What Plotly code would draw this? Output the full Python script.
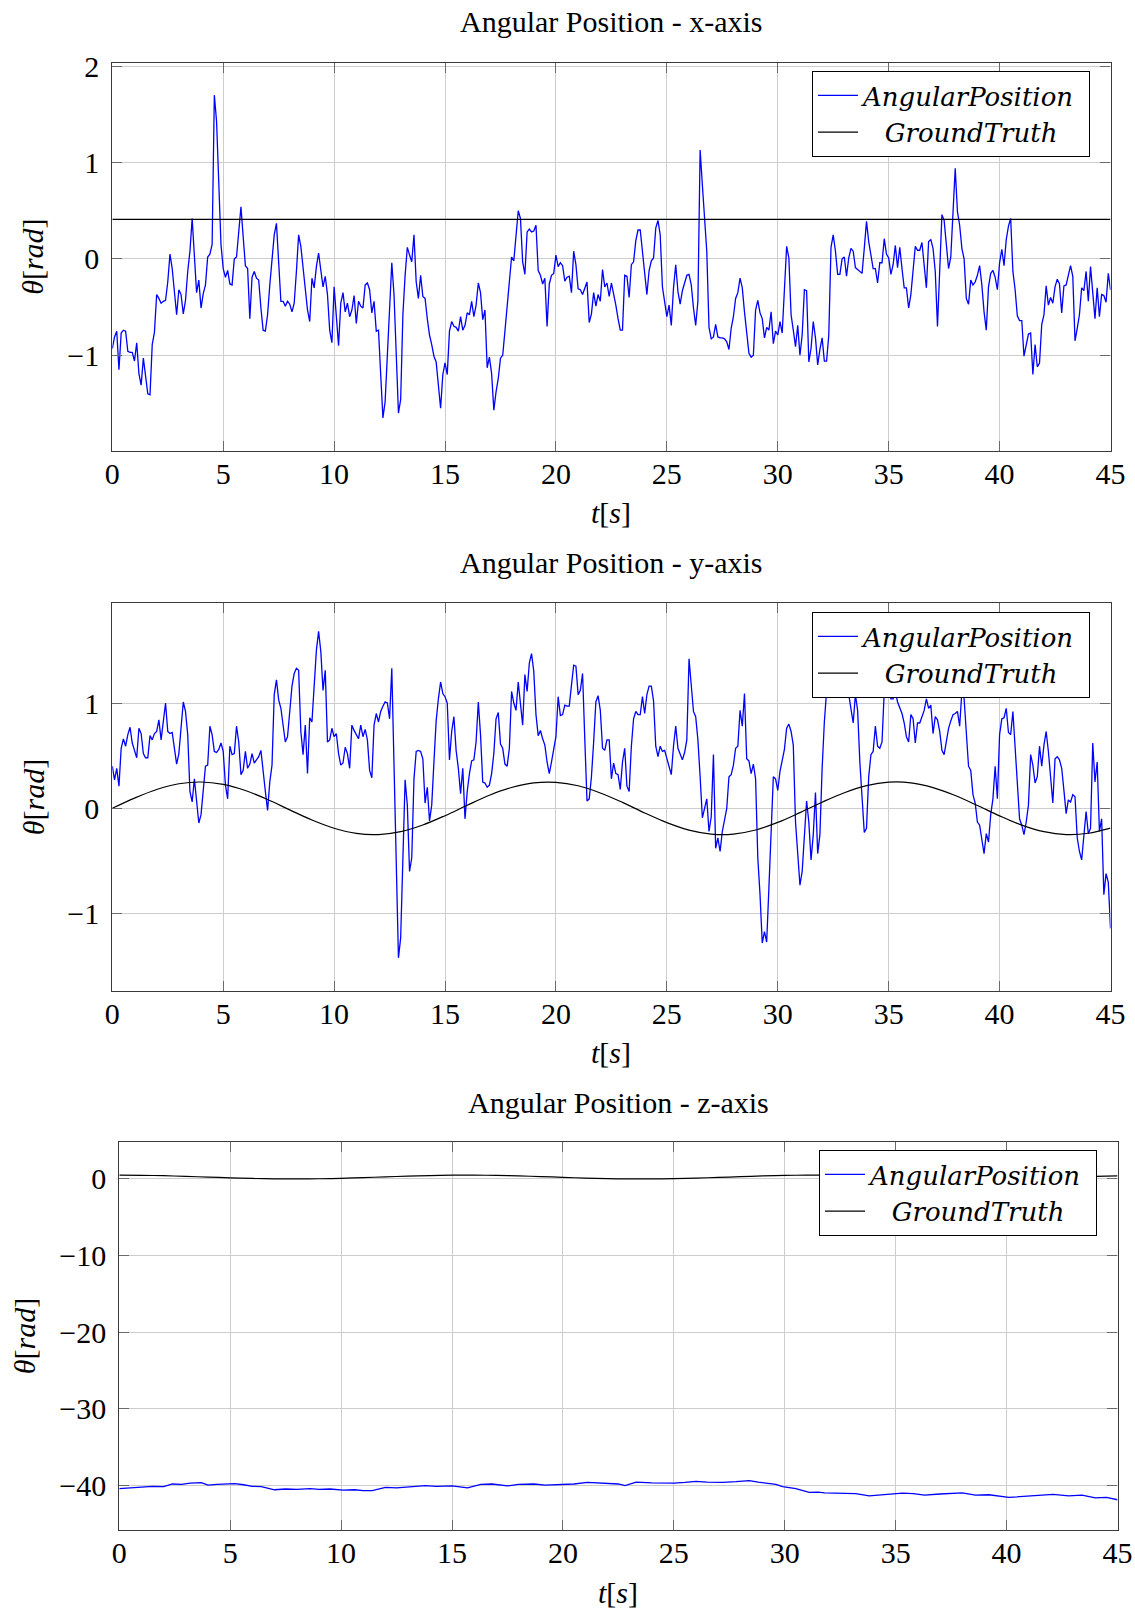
import numpy as np
import plotly.graph_objects as go

W, H = 1135, 1612
FONT = "Liberation Serif"
FONT_LEG = "DejaVu Serif"
FS = 30        # tick labels, titles
FS_LEG = 26    # legend entries

# ---------------------------------------------------------------- data
# IMU-estimated angular position, sampled every 0.1 s (0 ... 45 s)
pos_x_0_15 = [
    -0.93, -0.81, -0.75, -1.15, -0.77, -0.74, -0.75, -0.96, -0.97, -0.97,
    -1.06, -0.87, -1.19, -1.31, -1.03, -1.20, -1.40, -1.41, -0.89, -0.76,
    -0.37, -0.41, -0.46, -0.44, -0.43, -0.24, 0.05, -0.10, -0.34, -0.58,
    -0.32, -0.37, -0.57, -0.43, -0.13, 0.08, 0.42, -0.03, -0.35, -0.22,
    -0.51, -0.36, -0.27, 0.02, 0.05, 0.15, 1.70, 1.43, 0.77, 0.15,
    -0.10, -0.19, -0.12, -0.26, -0.27, 0.00, 0.02, 0.32, 0.54, 0.23,
    -0.07, -0.10, -0.62, -0.19, -0.13, -0.20, -0.22, -0.51, -0.74, -0.75,
    -0.58, -0.27, 0.04, 0.25, 0.37, -0.06, -0.44, -0.44, -0.49, -0.44,
    -0.47, -0.55, -0.46, -0.13, 0.25, 0.13, -0.10, -0.34, -0.53, -0.65,
    -0.20, -0.30, -0.08, 0.06, -0.10, -0.29, -0.18, -0.37, -0.74, -0.87,
    -0.29, -0.65, -0.90, -0.46, -0.35, -0.55, -0.46, -0.60, -0.53, -0.38,
    -0.67, -0.44, -0.49, -0.51, -0.27, -0.25, -0.32, -0.56, -0.44, -0.75,
    -0.74, -1.20, -1.65, -1.48, -1.00, -0.58, -0.04, -0.37, -1.07, -1.60,
    -1.46, -0.58, -0.17, 0.12, 0.04, -0.03, 0.25, -0.24, -0.41, -0.17,
    -0.39, -0.41, -0.62, -0.79, -0.89, -1.01, -1.07, -1.31, -1.55, -1.20,
    -1.08, -1.20, -0.75,
]
pos_x_15_30 = [
    -0.65, -0.70, -0.71, -0.75, -0.60, -0.74, -0.69, -0.56, -0.58, -0.44,
    -0.60, -0.48, -0.25, -0.35, -0.63, -0.53, -1.13, -1.02, -1.19, -1.57,
    -1.38, -1.24, -1.03, -1.00, -0.75, -0.48, -0.18, 0.02, -0.02, 0.23,
    0.50, 0.42, -0.03, -0.16, 0.28, 0.31, 0.28, 0.29, 0.35, -0.12,
    -0.17, -0.26, -0.20, -0.70, -0.26, -0.17, -0.15, 0.04, -0.08, -0.04,
    -0.07, -0.23, -0.19, -0.18, -0.35, 0.08, -0.06, -0.31, -0.32, -0.37,
    -0.30, -0.24, -0.66, -0.57, -0.35, -0.49, -0.37, -0.44, -0.11, -0.29,
    -0.25, -0.39, -0.25, -0.35, -0.48, -0.62, -0.74, -0.74, -0.17, -0.18,
    -0.40, -0.06, -0.03, 0.19, 0.30, 0.30, 0.08, -0.17, -0.37, -0.12,
    -0.02, 0.01, 0.32, 0.40, 0.25, -0.29, -0.45, -0.60, -0.48, -0.69,
    -0.30, -0.06, -0.34, -0.47, -0.33, -0.25, -0.17, -0.16, -0.27, -0.51,
    -0.69, -0.44, 1.13, 0.77, 0.42, 0.08, -0.71, -0.83, -0.81, -0.68,
    -0.81, -0.82, -0.82, -0.83, -0.86, -0.94, -0.72, -0.60, -0.41, -0.35,
    -0.20, -0.30, -0.55, -0.79, -0.98, -1.02, -1.00, -0.53, -0.43, -0.56,
    -0.62, -0.82, -0.71, -0.74, -0.55, -0.88, -0.75, -0.79, -0.65, -0.77,
    -0.30, 0.13, 0.01,
]
pos_x_30_45 = [
    -0.58, -0.74, -0.91, -0.69, -1.00, -0.79, -0.32, -0.33, -1.07, -0.93,
    -0.65, -0.82, -1.10, -0.94, -0.82, -1.06, -1.06, -0.79, 0.12, 0.25,
    0.08, -0.16, -0.16, 0.00, 0.02, -0.18, 0.01, 0.11, 0.08, -0.09,
    -0.11, -0.12, -0.15, 0.11, 0.39, 0.18, 0.02, -0.10, -0.10, -0.25,
    -0.04, -0.04, 0.21, 0.05, 0.01, -0.16, -0.06, 0.14, -0.09, 0.12,
    -0.10, -0.30, -0.30, -0.51, -0.37, -0.10, 0.13, 0.09, 0.09, 0.17,
    -0.10, -0.30, 0.18, 0.20, 0.11, -0.13, -0.70, -0.03, 0.46, 0.40,
    0.13, -0.10, 0.02, 0.53, 0.94, 0.49, 0.35, 0.11, 0.00, -0.41,
    -0.47, -0.22, -0.27, -0.24, -0.17, -0.07, -0.27, -0.55, -0.74, -0.29,
    -0.15, -0.12, -0.19, -0.32, -0.04, 0.10, -0.07, 0.20, 0.34, 0.42,
    -0.13, -0.32, -0.59, -0.64, -0.64, -1.01, -0.89, -0.78, -0.77, -1.20,
    -0.89, -1.12, -1.08, -0.68, -0.58, -0.28, -0.48, -0.40, -0.46, -0.29,
    -0.21, -0.26, -0.56, -0.28, -0.27, -0.15, -0.07, -0.18, -0.85, -0.72,
    -0.58, -0.30, -0.33, -0.13, -0.44, -0.08, -0.37, -0.62, -0.30, -0.60,
    -0.37, -0.38, -0.45, -0.15, -0.32,
]

pos_y_0_15 = [
    0.40, 0.27, 0.38, 0.21, 0.57, 0.66, 0.59, 0.70, 0.77, 0.62,
    0.55, 0.48, 0.76, 0.71, 0.52, 0.48, 0.48, 0.69, 0.65, 0.71,
    0.73, 0.84, 0.65, 0.82, 1.00, 0.73, 0.71, 0.72, 0.57, 0.42,
    0.52, 0.79, 1.01, 0.92, 0.70, 0.16, 0.06, 0.28, 0.03, -0.14,
    -0.06, 0.19, 0.40, 0.41, 0.78, 0.70, 0.54, 0.53, 0.56, 0.62,
    0.54, 0.22, 0.09, 0.59, 0.51, 0.52, 0.78, 0.63, 0.32, 0.36,
    0.54, 0.38, 0.42, 0.52, 0.43, 0.46, 0.49, 0.55, 0.38, 0.16,
    -0.02, 0.25, 0.41, 1.08, 1.22, 1.03, 0.95, 0.78, 0.63, 0.68,
    0.92, 1.16, 1.28, 1.33, 1.31, 0.73, 0.51, 0.79, 0.33, 0.86,
    0.82, 1.12, 1.50, 1.68, 1.49, 1.12, 1.31, 0.63, 0.65, 0.76,
    0.68, 0.71, 0.52, 0.41, 0.43, 0.58, 0.52, 0.38, 0.79, 0.74,
    0.70, 0.66, 0.79, 0.68, 0.75, 0.65, 0.36, 0.29, 0.79, 0.90,
    0.82, 0.92, 0.97, 1.01, 1.00, 0.85, 1.33, 0.47, -0.51, -1.42,
    -1.23, -0.41, 0.27, 0.03, -0.60, -0.47, 0.28, 0.54, 0.55, 0.54,
    0.47, 0.05, 0.20, -0.12, 0.03, 0.44, 0.83, 1.04, 1.20, 1.09,
    1.06, 1.00, 0.46,
]
pos_y_15_30 = [
    0.73, 0.87, 0.55, 0.38, 0.14, 0.38, -0.10, 0.16, 0.33, 0.45,
    0.46, 0.63, 1.01, 0.70, 0.25, 0.24, 0.20, 0.22, 0.33, 0.52,
    0.85, 0.91, 0.61, 0.57, 0.42, 0.40, 0.57, 1.11, 1.00, 0.93,
    1.20, 1.01, 0.79, 1.27, 1.11, 1.38, 1.47, 1.30, 0.89, 0.69,
    0.74, 0.66, 0.60, 0.44, 0.33, 0.44, 0.55, 0.68, 1.06, 0.88,
    0.89, 0.98, 0.97, 0.97, 1.17, 1.36, 1.35, 1.08, 1.12, 1.28,
    0.66, 0.07, 0.09, 0.30, 0.63, 1.01, 1.07, 0.93, 0.57, 0.55,
    0.65, 0.65, 0.28, 0.43, 0.33, 0.32, 0.18, 0.44, 0.57, 0.21,
    0.16, 0.59, 0.85, 0.92, 0.89, 0.89, 1.06, 0.90, 1.08, 1.16,
    1.16, 1.02, 0.59, 0.49, 0.59, 0.54, 0.55, 0.47, 0.41, 0.32,
    0.59, 0.78, 0.57, 0.51, 0.46, 0.53, 0.65, 1.42, 1.20, 0.92,
    0.87, 0.65, 0.30, -0.09, 0.00, 0.09, -0.22, -0.08, 0.51, -0.38,
    -0.28, -0.41, -0.22, -0.09, 0.00, 0.30, 0.32, 0.41, 0.57, 0.59,
    0.93, 0.78, 1.09, 0.47, 0.45, 0.33, 0.42, 0.28, -0.47, -0.82,
    -1.28, -1.17, -1.27, -0.76, -0.13, 0.30, 0.28, 0.17, 0.35, 0.47,
    0.56, 0.76, 0.80,
]
pos_y_30_45 = [
    0.73, 0.60, -0.13, -0.44, -0.73, -0.60, -0.25, 0.07, -0.13, -0.49,
    -0.25, 0.15, -0.43, -0.25, 0.38, 0.82, 1.11, 1.23, 1.17, 1.27,
    1.09, 1.27, 1.20, 1.23, 1.17, 1.11, 1.08, 0.95, 0.81, 1.08,
    0.93, 0.44, 0.13, -0.23, -0.19, 0.30, 0.51, 0.54, 0.78, 0.59,
    0.57, 0.63, 1.11, 1.23, 1.17, 1.04, 1.04, 1.11, 1.01, 0.95,
    0.90, 0.81, 0.68, 0.63, 0.89, 0.85, 0.62, 0.81, 0.81, 0.87,
    0.93, 1.04, 0.95, 0.98, 0.71, 0.87, 0.84, 0.73, 0.55, 0.51,
    0.63, 0.76, 0.83, 0.89, 0.90, 0.92, 0.78, 1.11, 1.04, 0.70,
    0.40, 0.36, 0.13, 0.05, -0.13, -0.16, -0.32, -0.43, -0.24, -0.32,
    -0.06, 0.09, 0.40, 0.09, 0.70, 0.85, 0.86, 0.95, 0.72, 0.70,
    0.92, 0.57, 0.21, -0.10, -0.16, -0.25, -0.13, 0.03, 0.51, 0.41,
    0.24, 0.30, 0.59, 0.40, 0.60, 0.73, 0.54, 0.30, 0.05, 0.47,
    0.49, 0.46, 0.38, 0.17, -0.05, 0.08, 0.06, 0.13, 0.11, -0.28,
    -0.41, -0.49, -0.25, -0.03, -0.24, -0.19, 0.62, 0.25, 0.44, -0.22,
    -0.10, -0.82, -0.62, -0.70, -1.14,
]

# z-axis estimate drifts around -40 rad (irregular time stamps)
t_z = [0.0, 0.5, 1.0, 1.5, 2.0, 2.4, 2.8, 3.2, 3.7, 4.0, 4.4, 4.8, 5.2, 5.6,
       6.0, 6.4, 7.0, 7.5, 8.0, 8.6, 9.0, 9.5, 10.1, 10.6, 11.0, 11.4, 11.8,
       12.0, 12.5, 13.0, 13.8, 14.3, 15.0, 15.7, 16.3, 16.8, 17.5, 18.0, 18.7,
       19.2, 19.9, 20.5, 21.1, 21.6, 22.1, 22.5, 22.8, 23.3, 24.0, 24.5, 25.0,
       25.5, 26.0, 26.5, 27.2, 27.8, 28.4, 28.8, 29.2, 29.6, 29.9, 30.5, 31.1,
       31.5, 31.8, 32.5, 33.2, 33.8, 34.4, 35.3, 35.8, 36.3, 37.0, 37.5, 38.0,
       38.6, 39.2, 40.1, 40.7, 41.3, 42.1, 42.8, 43.4, 44.0, 44.5, 45.0]
pos_z = [-40.35, -40.25, -40.15, -40.05, -40.10, -39.75, -39.80, -39.65,
         -39.57, -39.90, -39.80, -39.75, -39.70, -39.85, -40.05, -40.10,
         -40.50, -40.40, -40.45, -40.35, -40.45, -40.40, -40.55, -40.50,
         -40.60, -40.60, -40.35, -40.20, -40.25, -40.10, -39.95, -40.05,
         -40.00, -40.25, -39.80, -39.75, -40.00, -39.80, -39.75, -39.90,
         -39.80, -39.75, -39.55, -39.60, -39.70, -39.75, -39.95, -39.50,
         -39.60, -39.60, -39.65, -39.55, -39.40, -39.50, -39.55, -39.45,
         -39.30, -39.50, -39.70, -39.80, -40.10, -40.35, -40.85, -40.80,
         -40.90, -40.95, -41.00, -41.30, -41.15, -40.95, -41.00, -41.20,
         -41.05, -41.00, -40.90, -41.20, -41.15, -41.50, -41.40, -41.30,
         -41.10, -41.30, -41.20, -41.55, -41.50, -41.80]

# ground truth, sampled once per second
t_gt = list(range(46))
gt_x = [0.41] * 46
gt_y = [0.000, 0.097, 0.179, 0.233, 0.250, 0.227, 0.169, 0.084, -0.015, -0.111,
        -0.189, -0.238, -0.249, -0.221, -0.158, -0.070, 0.029, 0.124, 0.198, 0.242,
        0.247, 0.214, 0.146, 0.056, -0.044, -0.136, -0.207, -0.245, -0.245, -0.206,
        -0.134, -0.041, 0.058, 0.148, 0.215, 0.248, 0.242, 0.197, 0.122, 0.027,
        -0.072, -0.160, -0.222, -0.249, -0.237, -0.188]
gt_z = [0.400, 0.380, 0.324, 0.241, 0.143, 0.046, -0.034, -0.086, -0.100, -0.074,
        -0.013, 0.073, 0.172, 0.267, 0.344, 0.390, 0.398, 0.367, 0.302, 0.213,
        0.114, 0.020, -0.053, -0.094, -0.096, -0.060, 0.010, 0.102, 0.201, 0.292,
        0.361, 0.397, 0.393, 0.351, 0.278, 0.184, 0.085, -0.004, -0.068, -0.099,
        -0.089, -0.043, 0.035, 0.130, 0.228, 0.315]

x_ticks = [0, 5, 10, 15, 20, 25, 30, 35, 40, 45]
titles = ["Angular Position - x-axis", "Angular Position - y-axis",
          "Angular Position - z-axis"]
series_names = ["AngularPosition", "GroundTruth"]

# ---------------------------------------------------------------- layout (pixels)
t_fast = np.round(np.arange(451) * 0.1, 1)
panels = [
    dict(x0=112.3, x1=1110.5, top=62.7, bot=451.0, yr=[-1.994, 2.037], dtick=1,
         est=(t_fast, pos_x_0_15 + pos_x_15_30 + pos_x_30_45), gt=gt_x,
         leg=(1090, 71), title_y=21.6, xlab_y=512, ylab_x=33),
    dict(x0=112.3, x1=1110.5, top=603.3, bot=991.0, yr=[-1.735, 1.947], dtick=1,
         est=(t_fast, pos_y_0_15 + pos_y_15_30 + pos_y_30_45), gt=gt_y,
         leg=(1090, 612), title_y=562, xlab_y=1052, ylab_x=33),
    dict(x0=119.3, x1=1117.5, top=1142.2, bot=1530.3, yr=[-45.77, 4.68], dtick=10,
         est=(t_z, pos_z), gt=gt_z,
         leg=(1097, 1150), title_y=1102, xlab_y=1592, ylab_x=24),
]

fig = go.Figure()
layout = dict(
    width=W, height=H, margin=dict(l=0, r=0, t=0, b=0),
    paper_bgcolor="white", plot_bgcolor="white",
    font=dict(family=FONT, size=FS, color="black"),
    template="none", annotations=[],
)

axis_common = dict(
    showline=True, linecolor="#3a3a3a", linewidth=1.3, mirror="allticks",
    ticks="inside", ticklen=10, tickwidth=1, tickcolor="#6a6a6a",
    showgrid=True, gridcolor="#cdcdcd", gridwidth=1, zeroline=False,
    automargin=False, tickfont=dict(family=FONT, size=FS, color="black"),
)

for i, p in enumerate(panels, start=1):
    sfx = "" if i == 1 else str(i)
    xa, ya = "x" + sfx, "y" + sfx
    leg = "legend" + sfx
    te, ve = p["est"]
    fig.add_trace(go.Scatter(x=te, y=ve, mode="lines", name=series_names[0],
                             line=dict(color="#0000ff", width=1.3),
                             xaxis=xa, yaxis=ya, legend=leg))
    fig.add_trace(go.Scatter(x=t_gt, y=p["gt"], mode="lines", name=series_names[1],
                             line=dict(color="black", width=1.2, shape="spline"),
                             xaxis=xa, yaxis=ya, legend=leg))

    layout["xaxis" + sfx] = dict(
        axis_common, domain=[p["x0"] / W, p["x1"] / W], anchor=ya,
        range=[0, 45], tickvals=x_ticks, ticklabelstandoff=-4,
    )
    layout["yaxis" + sfx] = dict(
        axis_common, domain=[1 - p["bot"] / H, 1 - p["top"] / H], anchor=xa,
        range=p["yr"], dtick=p["dtick"], tick0=0, ticklabelstandoff=6,
    )
    lx, ly = p["leg"]
    layout[leg] = dict(
        x=lx / W, y=1 - ly / H, xanchor="right", yanchor="top",
        xref="paper", yref="paper",
        bgcolor="white", bordercolor="black", borderwidth=1,
        font=dict(family=FONT_LEG, size=FS_LEG, color="black"),
        tracegroupgap=0, itemwidth=40,
    )
    cx = (p["x0"] + p["x1"]) / 2 / W
    layout["annotations"] += [
        dict(text=titles[i - 1], x=cx, y=1 - p["title_y"] / H, xref="paper",
             yref="paper", showarrow=False, xanchor="center", yanchor="middle",
             font=dict(family=FONT, size=FS)),
        dict(text="<i>t</i>[<i>s</i>]", x=cx, y=1 - p["xlab_y"] / H, xref="paper",
             yref="paper", showarrow=False, xanchor="center", yanchor="middle",
             font=dict(family=FONT, size=FS)),
        dict(text="<i>θ</i>[<i>rad</i>]", x=p["ylab_x"] / W,
             y=1 - (p["top"] + p["bot"]) / 2 / H, xref="paper", yref="paper",
             showarrow=False, xanchor="center", yanchor="middle", textangle=-90,
             font=dict(family=FONT, size=FS)),
    ]

fig.update_layout(**layout)
fig.update_traces(hoverinfo="skip")

# italic legend labels, the second one centred under the first
for tr in fig.data:
    if tr.name == series_names[0]:
        tr.name = "<i>" + series_names[0] + "</i>\u00a0"
    else:
        tr.name = "\u00a0\u00a0\u2009<i>" + series_names[1] + "</i>"

fig.write_html("out.html")
